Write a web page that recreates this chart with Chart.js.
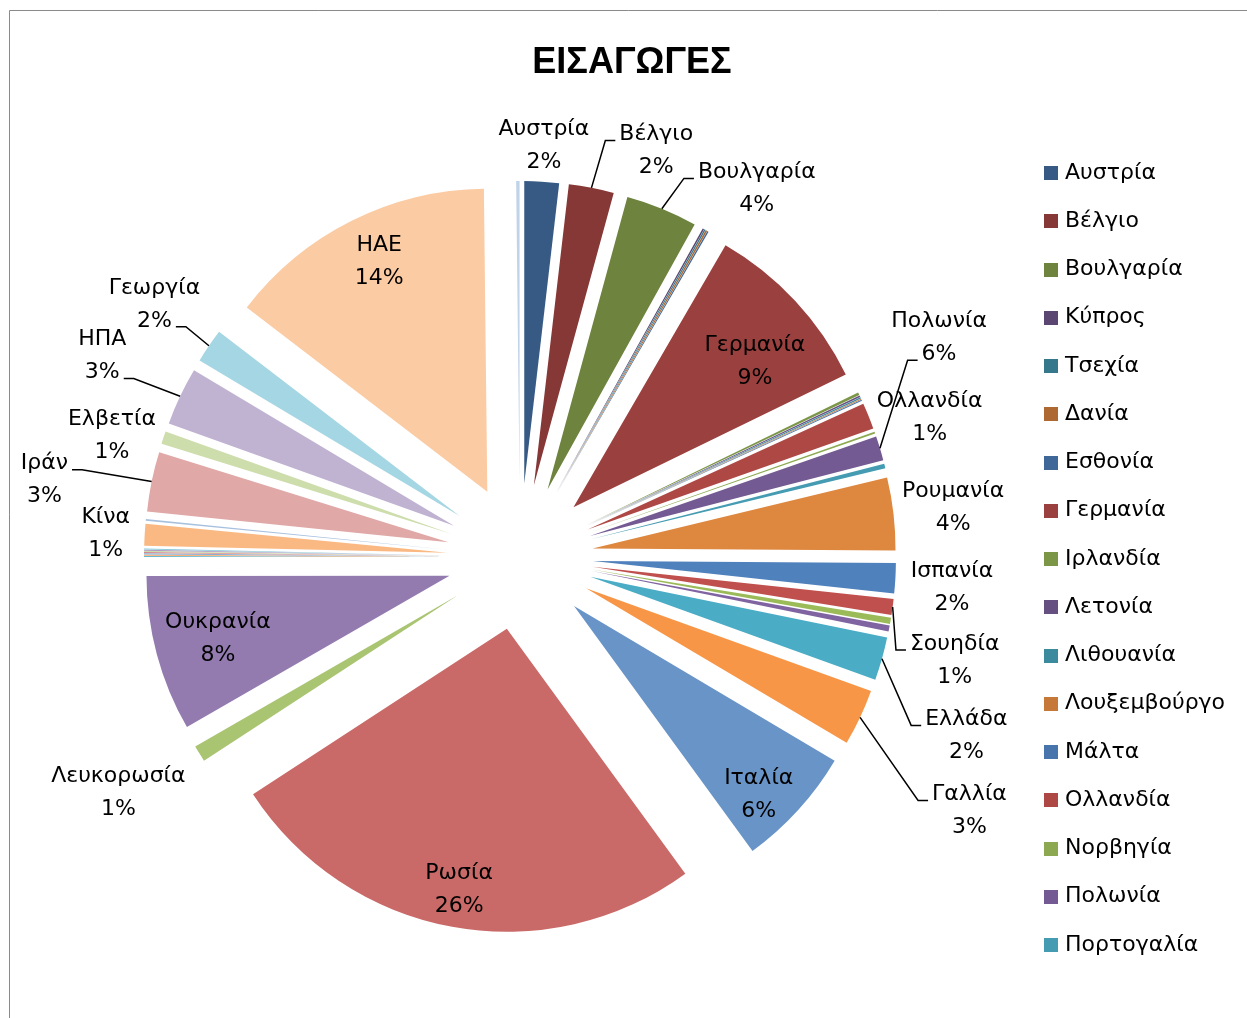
<!DOCTYPE html>
<html>
<head>
<meta charset="utf-8">
<style>
  html, body { margin: 0; padding: 0; background: #ffffff; }
  #wrap { position: relative; width: 1247px; height: 1018px; }
  canvas { display: block; }
</style>
<script src="https://cdn.jsdelivr.net/npm/chart.js"></script>
</head>
<body>
<div id="wrap"><canvas id="c" width="1247" height="1018"></canvas></div>
<script>
// ---------------- DATA ----------------
const chartTitle = 'ΕΙΣΑΓΩΓΕΣ';

const countries = [
  'Αυστρία', 'Βέλγιο', 'Βουλγαρία', 'Κύπρος', 'Τσεχία', 'Δανία', 'Εσθονία',
  'Γερμανία', 'Ιρλανδία', 'Λετονία', 'Λιθουανία', 'Λουξεμβούργο', 'Μάλτα',
  'Ολλανδία', 'Νορβηγία', 'Πολωνία', 'Πορτογαλία', 'Ρουμανία', 'Ισπανία',
  'Σουηδία', 'Ουγγαρία', 'Φινλανδία', 'Ελλάδα', 'Γαλλία', 'Ιταλία', 'Ρωσία',
  'Λευκορωσία', 'Ουκρανία', 'Τουρκία', 'Καζακστάν', 'Αζερμπαϊτζάν', 'Ισραήλ',
  'Ιαπωνία', 'Κορέα', 'Ινδία', 'Κίνα', 'Αίγυπτος', 'Ιράν', 'Ελβετία', 'ΗΠΑ',
  'Γεωργία', 'ΗΑΕ', 'Λοιπές χώρες'
];

// share of imports, %
const shares = [
  1.84, 2.40, 3.82, 0.08, 0.07, 0.08, 0.07,
  9.40, 0.15, 0.08, 0.07, 0.05, 0.05,
  1.40, 0.10, 1.30, 0.25, 3.86, 1.60,
  0.85, 0.33, 0.33, 2.30, 3.00, 6.45, 25.80,
  0.88, 8.30, 0.06, 0.05, 0.06, 0.05,
  0.05, 0.05, 0.05, 1.16, 0.10, 3.18, 0.67, 3.10,
  1.82, 14.40, 0.18
];

// percentage text printed on the data labels (null = no label)
const pctLabels = [
  '2%', '2%', '4%', null, null, null, null,
  '9%', null, null, null, null, null,
  '1%', null, '6%', null, '4%', '2%',
  '1%', null, null, '2%', '3%', '6%', '26%',
  '1%', '8%', null, null, null, null,
  null, null, null, '1%', null, '3%', '1%', '3%',
  '2%', '14%', null
];

// number of entries visible in the (truncated) legend
const legendCount = 17;

// ---------------- STYLE ----------------
const accents = [[79,129,189],[192,80,77],[155,187,89],[128,100,162],[75,172,198],[247,150,70]];
// Excel-style colour variation per round of 6 points: negative = shade, positive = tint
const variations = [-0.30, -0.20, -0.10, 0, 0.15, 0.33, 0.50, 0.65];
function pointColor(i) {
  const base = accents[i % 6];
  const v = variations[Math.min(Math.floor(i / 6), variations.length - 1)];
  const c = base.map(ch => v < 0 ? Math.round(ch * (1 + v)) : Math.round(ch + (255 - ch) * v));
  return 'rgb(' + c.join(',') + ')';
}
const colors = countries.map((_, i) => pointColor(i));

const EXPLODE = 73;          // radial explosion of each slice, px
const FONT = '22px "DejaVu Sans", sans-serif';
const LINE = 33;             // label line spacing
const BOX_H = 56;            // label box height
const GAP = 6;               // outside-label gap

// label placement adjustments (distance from slice centre, angular shift in deg, leader attach line)
const labelPlacement = {
  'Βέλγιο':     { d: 357, da: 9.1,  line: 1 },
  'Βουλγαρία':  { d: 367, da: 12.6, line: 1 },
  'Γερμανία':   { d: 233, da: 4.1 },
  'Ολλανδία':   { d: 360, da: 3.8 },
  'Πολωνία':    { d: 402, da: -12.9, line: 2 },
  'Ισπανία':    { d: 360, da: 0.8 },
  'Σουηδία':    { d: 374, da: 6.7,  line: 1 },
  'Ελλάδα':     { d: 408, da: 7.1,  line: 1 },
  'Γαλλία':     { d: 443, da: 4.8,  line: 1 },
  'Ιταλία':     { d: 263, da: 3.1 },
  'Λευκορωσία': { d: 392, da: 1.5 },
  'Κίνα':       { d: 342, da: 0 },
  'Ιράν':       { d: 409, da: -2.7, line: 1 },
  'Ελβετία':    { d: 353, da: -2.2 },
  'ΗΠΑ':        { d: 391, da: 0.6,  line: 2 },
  'Γεωργία':    { d: 372, da: 0.7,  line: 2 },
  'ΗΑΕ':        { d: 255, da: 1.5 }
};

// ---------------- exploded arcs (each library arc shifted along its mid-angle) ----------------
const ArcEl = Chart.ArcElement || (Chart.elements && Chart.elements.ArcElement);
const baseArcDraw = ArcEl.prototype.draw;
ArcEl.prototype.draw = function (ctx, area) {
  const mid = (this.startAngle + this.endAngle) / 2;
  ctx.save();
  ctx.translate(Math.cos(mid) * EXPLODE, Math.sin(mid) * EXPLODE);
  baseArcDraw.call(this, ctx, area);
  ctx.restore();
};

// ---------------- plugins ----------------
const framePlugin = {
  id: 'frame',
  beforeDraw(chart) {
    const ctx = chart.ctx;
    ctx.save();
    ctx.fillStyle = '#ffffff';
    ctx.fillRect(0, 0, chart.width, chart.height);
    ctx.strokeStyle = '#8a8a8a';
    ctx.lineWidth = 1;
    ctx.beginPath();
    ctx.moveTo(9.5, chart.height);
    ctx.lineTo(9.5, 10.5);
    ctx.lineTo(chart.width, 10.5);
    ctx.stroke();
    ctx.restore();
  }
};

const titlePlugin = {
  id: 'excelTitle',
  afterDraw(chart) {
    const ctx = chart.ctx;
    ctx.save();
    ctx.font = 'bold 36px "Liberation Sans", Arial, sans-serif';
    ctx.fillStyle = '#000000';
    ctx.textAlign = 'center';
    ctx.textBaseline = 'alphabetic';
    ctx.fillText(chartTitle, 632, 73);
    ctx.restore();
  }
};

const legendPlugin = {
  id: 'excelLegend',
  afterDraw(chart) {
    const ctx = chart.ctx;
    const bg = chart.data.datasets[0].backgroundColor;
    ctx.save();
    ctx.font = FONT;
    ctx.textAlign = 'left';
    ctx.textBaseline = 'middle';
    for (let i = 0; i < legendCount; i++) {
      const yy = 173 + i * 48.25;
      ctx.fillStyle = bg[i];
      ctx.fillRect(1044, Math.round(yy - 7), 14, 14);
      ctx.fillStyle = '#000000';
      ctx.fillText(chart.data.labels[i], 1065, yy);
    }
    ctx.restore();
  }
};

const labelPlugin = {
  id: 'excelLabels',
  afterDatasetsDraw(chart) {
    const ctx = chart.ctx;
    const meta = chart.getDatasetMeta(0);
    const data = chart.data.datasets[0].data;
    const total = data.reduce((a, b) => a + b, 0);
    ctx.save();
    ctx.font = FONT;
    ctx.fillStyle = '#000000';
    ctx.strokeStyle = '#000000';
    ctx.lineWidth = 1.5;
    ctx.textAlign = 'center';
    ctx.textBaseline = 'middle';
    meta.data.forEach((arc, i) => {
      const pct = pctLabels[i];
      if (!pct) return;
      const p = arc.getProps(['x', 'y', 'startAngle', 'endAngle', 'outerRadius'], true);
      const mid = (p.startAngle + p.endAngle) / 2;
      const ux = Math.cos(mid), uy = Math.sin(mid);
      const cx = p.x + ux * EXPLODE, cy = p.y + uy * EXPLODE;
      const R = p.outerRadius;
      const lines = [chart.data.labels[i], pct];
      const widths = lines.map(t => ctx.measureText(t).width);
      const w = Math.max(widths[0], widths[1]);
      const ext = Math.abs(ux) * w / 2 + Math.abs(uy) * BOX_H / 2;
      const o = labelPlacement[chart.data.labels[i]];
      let lx, ly;
      if (o) {
        const a = mid + o.da * Math.PI / 180;
        lx = cx + Math.cos(a) * o.d; ly = cy + Math.sin(a) * o.d;
      } else if (data[i] / total >= 0.05) {
        const d = R - 5 - ext;
        lx = cx + ux * d; ly = cy + uy * d;
      } else {
        const d = R + GAP + ext;
        lx = cx + ux * d; ly = cy + uy * d;
      }
      ctx.fillText(lines[0], lx, ly - LINE / 2 + 1);
      ctx.fillText(lines[1], lx, ly + LINE / 2 + 1);
      if (o && o.line) {
        const k = o.line - 1;
        const px = cx + ux * R, py = cy + uy * R;
        const ty = ly + (k === 0 ? -LINE / 2 : LINE / 2) + 7;
        const tw = widths[k];
        let edgeX, elbowX;
        if (px < lx) { edgeX = lx - tw / 2 - 4; elbowX = edgeX - 10; }
        else { edgeX = lx + tw / 2 + 4; elbowX = edgeX + 10; }
        ctx.beginPath();
        ctx.moveTo(px, py);
        ctx.lineTo(elbowX, ty);
        ctx.lineTo(edgeX, ty);
        ctx.stroke();
      }
    });
    ctx.restore();
  }
};

// ---------------- chart ----------------
new Chart(document.getElementById('c'), {
  type: 'pie',
  data: {
    labels: countries,
    datasets: [{
      data: shares,
      backgroundColor: colors,
      borderWidth: 0,
      offset: 0,
      hoverOffset: 0,
      clip: false
    }]
  },
  options: {
    responsive: false,
    devicePixelRatio: 1,
    animation: false,
    events: [],
    layout: { padding: { left: 217, top: 254, right: 424, bottom: 158 } },
    plugins: {
      legend: { display: false },
      title: { display: false },
      tooltip: { enabled: false }
    }
  },
  plugins: [framePlugin, labelPlugin, legendPlugin, titlePlugin]
});
</script>
</body>
</html>
